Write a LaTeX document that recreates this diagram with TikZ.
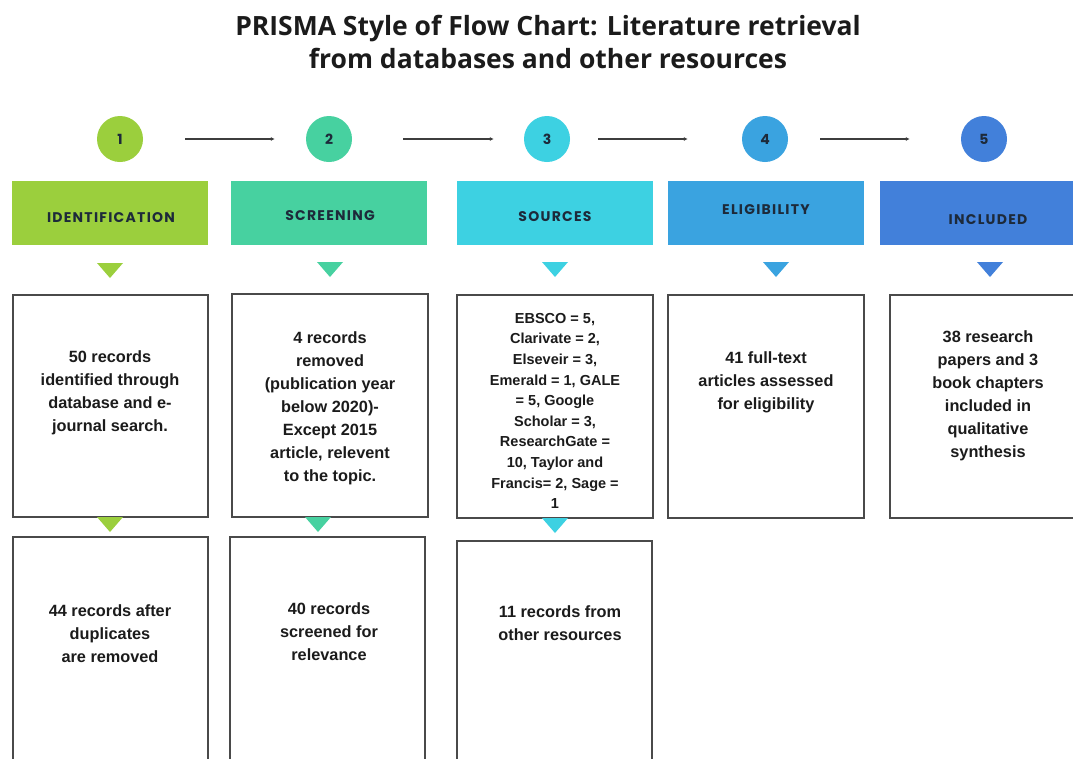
\documentclass[tikz,border=0pt]{standalone}
\usepackage{fontspec}
\setmainfont{Liberation Sans}
\newfontfamily\popfont{Poppins}
\newfontfamily\headfont{Poppins}[LetterSpace=9]
\newfontfamily\titlefont{Open Sans}
\usetikzlibrary{arrows.meta}
\definecolor{cA}{HTML}{9BCF3D}
\definecolor{cB}{HTML}{47D1A0}
\definecolor{cC}{HTML}{3DD1E2}
\definecolor{cD}{HTML}{3AA3E0}
\definecolor{cE}{HTML}{4280DA}
\definecolor{ink}{HTML}{1B1B1B}
\definecolor{navy}{HTML}{1D2A3A}
\definecolor{edge}{HTML}{4A4A4A}
\tikzset{
  num/.style={circle, minimum size=46pt, inner sep=0pt, font=\popfont\bfseries\fontsize{14}{14}\selectfont, text=navy},
  hbox/.style={anchor=north west, minimum width=196pt, minimum height=64pt, inner sep=0pt, outer sep=0pt},
  hlabel/.style={font=\headfont\bfseries\fontsize{14}{14}\selectfont, text=navy},
  tbox/.style={anchor=north west, draw=edge, line width=1.3pt, fill=white, inner sep=0pt, outer sep=0pt},
  body/.style={align=center, text=ink, font=\bfseries\fontsize{16.3}{23}\selectfont, inner sep=0pt},
  small/.style={align=center, text=ink, font=\bfseries\fontsize{14.5}{20.6}\selectfont, inner sep=0pt},
  arr/.style={draw=ink!85, line width=1.1pt, -{Latex[length=4pt,width=4pt]}}
}
\begin{document}
\begin{tikzpicture}[x=1pt,y=-1pt]
\useasboundingbox (0,0) rectangle (1073,758);
\fill[white] (0,0) rectangle (1073,758);

% title
\node[font=\titlefont\bfseries\fontsize{26.5}{33}\selectfont, text=ink, align=center] (title) at (548,42)
  {PRISMA Style of Flow Chart: Literature retrieval\\from databases and other resources};

% step circles
\node[num, fill=cA] (n1) at (120,139) {1};
\node[num, fill=cB] (n2) at (329,139) {2};
\node[num, fill=cC] (n3) at (547,139) {3};
\node[num, fill=cD] (n4) at (765,139) {4};
\node[num, fill=cE] (n5) at (984,139) {5};

\draw[arr, shorten <=42pt, shorten >=31pt] (n1) -- (n2);
\draw[arr, shorten <=51pt, shorten >=30pt] (n2) -- (n3);
\draw[arr, shorten <=28pt, shorten >=54pt] (n3) -- (n4);
\draw[arr, shorten <=32pt, shorten >=51pt] (n4) -- (n5);

% header boxes
\node[hbox, fill=cA] (h1) at (12,181) {};
\node[hbox, fill=cB] (h2) at (231,181) {};
\node[hbox, fill=cC] (h3) at (457,181) {};
\node[hbox, fill=cD] (h4) at (668,181) {};
\node[hbox, fill=cE, minimum width=200pt] (h5) at (880,181) {};
\node[hlabel] (l1) at (111,218) {IDENTIFICATION};
\node[hlabel] (l2) at (330,216) {SCREENING};
\node[hlabel] (l3) at (555,217) {SOURCES};
\node[hlabel] (l4) at (766,210) {ELIGIBILITY};
\node[hlabel] (l5) at (988,220) {INCLUDED};

% triangles under headers
\fill[cA] (97,263) -- (123,263) -- (110,278) -- cycle;
\fill[cB] (317,262) -- (343,262) -- (330,277) -- cycle;
\fill[cC] (542,262) -- (568,262) -- (555,277) -- cycle;
\fill[cD] (763,262) -- (789,262) -- (776,277) -- cycle;
\fill[cE] (977,262) -- (1003,262) -- (990,277) -- cycle;

% top row boxes
\node[tbox, minimum width=195pt, minimum height=222pt] (b1) at (13,295) {};
\node[tbox, minimum width=196pt, minimum height=223pt] (b2) at (232,294) {};
\node[tbox, minimum width=196pt, minimum height=223pt] (b3) at (457,295) {};
\node[tbox, minimum width=196pt, minimum height=223pt] (b4) at (668,295) {};
\node[tbox, minimum width=200pt, minimum height=223pt] (b5) at (890,295) {};

\node[body] (t1) at (110,393) {50 records\\identified through\\database and e-\\journal search.};
\node[body] (t2) at (330,408) {4 records\\removed\\(publication year\\below 2020)-\\Except 2015\\article, relevent\\to the topic.};
\node[small] (t3) at (555,411) {EBSCO = 5,\\Clarivate = 2,\\Elseveir = 3,\\Emerald = 1, GALE\\= 5, Google\\Scholar = 3,\\ResearchGate =\\10, Taylor and\\Francis= 2, Sage =\\1};
\node[body] (t4) at (766,382) {41 full-text\\articles assessed\\for eligibility};
\node[body] (t5) at (988,396) {38 research\\papers and 3\\book chapters\\included in\\qualitative\\synthesis};

% bottom row boxes
\node[tbox, minimum width=195pt, minimum height=240pt] (c1) at (13,537) {};
\node[tbox, minimum width=195pt, minimum height=240pt] (c2) at (230,537) {};
\node[tbox, minimum width=195pt, minimum height=240pt] (c3) at (457,541) {};

% triangles between rows
\fill[cA] (97,517) -- (123,517) -- (110,532) -- cycle;
\fill[cB] (305,517) -- (331,517) -- (318,532) -- cycle;
\fill[cC] (542,518) -- (568,518) -- (555,533) -- cycle;

\node[body] (u1) at (110,634) {44 records after\\duplicates\\are removed};
\node[body] (u2) at (329,632) {40 records\\screened for\\relevance};
\node[body] (u3) at (560,623) {11 records from\\other resources};
\end{tikzpicture}
\end{document}
